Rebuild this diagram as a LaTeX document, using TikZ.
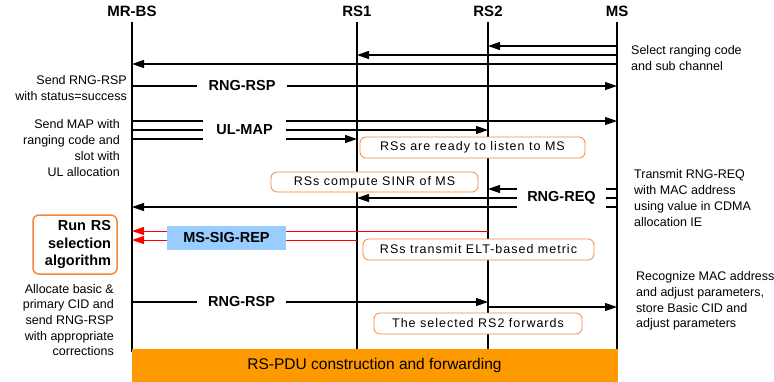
\documentclass[tikz,border=0pt]{standalone}
\usepackage{fontspec}
\setmainfont{Liberation Sans}
\newfontfamily\notefont{Liberation Sans}[LetterSpace=8]
\usepackage{tikz}
\usetikzlibrary{arrows.meta, positioning, calc}
\definecolor{noteorange}{HTML}{F5873A}
\definecolor{barorange}{HTML}{FF9900}
\definecolor{repblue}{HTML}{99CCFF}
\definecolor{sigred}{HTML}{FF0000}
\tikzset{
	head/.style={inner sep=0pt, font=\fontsize{15}{18}\selectfont\bfseries},
	lifeline/.style={line width=1.3pt},
	msg/.style={line width=1.2pt,-{Triangle[length=12pt, width=8pt]}},
	redmsg/.style={line width=1pt, draw=sigred, -{Triangle[length=12pt, width=8pt, fill=sigred]}},
	plain/.style={line width=1.2pt},
	msglabel/.style={fill=white, inner sep=0pt, font=\fontsize{14.5}{17}\selectfont\bfseries},
	note/.style={rectangle, rounded corners=6pt, draw=noteorange, line width=0.8pt, fill=white, inner sep=0pt, font=\notefont\fontsize{12.5}{14}\selectfont},
	annot/.style={inner sep=0pt, font=\fontsize{12.5}{15.7}\selectfont},
	bar/.style={rectangle, fill=barorange, inner sep=0pt, font=\fontsize{15.5}{18}\selectfont}
}
\begin{document}
\begin{tikzpicture}[x=1pt, y=-1pt]
	\useasboundingbox (0,0) rectangle (774,381);
	% Entidades
	\node [head] (bs) at (132,11) {MR-BS};
	\node [head] (rs1) at (357,11) {RS1};
	\node [head] (rs2) at (488,11) {RS2};
	\node [head] (ms) at (617,11) {MS};
	\coordinate (top) at (0,22);
	\coordinate (bot) at (0,352);
	\foreach \e in {bs,rs1,rs2,ms}
		\draw [lifeline] (\e |- top) -- (\e |- bot);
	
	% Filas de mensajes
	\coordinate (m1) at (0,46);
	\coordinate (m2) at (0,55);
	\coordinate (m3) at (0,64);
	\coordinate (m4) at (0,86);
	\coordinate (m5) at (0,121);
	\coordinate (m6) at (0,130);
	\coordinate (m7) at (0,139);
	\coordinate (m8) at (0,189);
	\coordinate (m9) at (0,198);
	\coordinate (m10) at (0,207);
	\coordinate (m11) at (0,231);
	\coordinate (m12) at (0,240);
	\coordinate (m13) at (0,302);
	\coordinate (m14) at (0,307);
	
	% Codigo de ranging
	\draw [msg] (ms |- m1) -- (rs2 |- m1);
	\draw [msg] (ms |- m2) -- (rs1 |- m2);
	\draw [msg] (ms |- m3) -- (bs |- m3);
	
	% RNG-RSP
	\draw [msg] (bs |- m4) -- (ms |- m4);
	\node [msglabel, minimum width=90pt, minimum height=14pt] (rsp1) at (242,86) {RNG-RSP};
	
	% UL-MAP
	\draw [msg] (bs |- m5) -- (ms |- m5);
	\draw [msg] (bs |- m6) -- (rs2 |- m6);
	\draw [msg] (bs |- m7) -- (rs1 |- m7);
	\node [msglabel, minimum width=83pt, minimum height=24pt] (ulmap) at (244.5,130) {UL-MAP};
	
	% RNG-REQ
	\draw [msg] (ms |- m8) -- (rs2 |- m8);
	\draw [msg] (ms |- m9) -- (rs1 |- m9);
	\draw [msg] (ms |- m10) -- (bs |- m10);
	\node [msglabel, minimum width=89pt, minimum height=24pt] (req) at (561.5,198) {RNG-REQ};
	
	% MS-SIG-REP
	\draw [redmsg] (rs2 |- m11) -- (bs |- m11);
	\draw [redmsg] (rs1 |- m12) -- (bs |- m12);
	\node [msglabel, fill=repblue, minimum width=119pt, minimum height=24pt] (sigrep) at (226.5,238) {MS-SIG-REP};
	
	% RNG-RSP final
	\draw [msg] (bs |- m13) -- (rs2 |- m13);
	\draw [msg] (rs2 |- m14) -- (ms |- m14);
	\node [msglabel, minimum width=89pt, minimum height=14pt] (rsp2) at (241.5,302) {RNG-RSP};
	
	% Notas
	\node [note, minimum width=225pt, minimum height=21pt] (ready) at (472.5,147.5) {RSs are ready to listen to MS};
	\node [note, minimum width=207pt, minimum height=20pt] (sinr) at (374.5,182) {RSs compute SINR of MS};
	\node [note, minimum width=231pt, minimum height=21pt] (elt) at (478.5,249.5) {RSs transmit ELT-based metric};
	\node [note, minimum width=208pt, minimum height=21pt] (fwd) at (478,323.5) {The selected RS2 forwards};
	\node [note, line width=1.5pt, minimum width=84pt, minimum height=59pt, text width=72pt, align=right, font=\fontsize{14.5}{17.5}\selectfont\bfseries] (algo) at (75,244.5) {Run RS\\selection\\algorithm};
	
	% Barra inferior
	\node [bar, minimum width=486pt, minimum height=33pt] (pdu) at (374.5,365) {RS-PDU construction and forwarding};
	
	% Textos laterales
	\node [annot, anchor=east, align=right] (t1) at (127,88) {Send RNG-RSP\\with status=success};
	\node [annot, anchor=east, align=right] (t2) at (120,148) {Send MAP with\\ranging code and\\slot with\\UL allocation};
	\node [annot, anchor=east, align=right] (t3) at (114,320) {Allocate basic \&\\primary CID and\\send RNG-RSP\\with appropriate\\corrections};
	\node [annot, anchor=west, align=left] (t4) at (631,58) {Select ranging code\\and sub channel};
	\node [annot, anchor=west, align=left] (t5) at (634,198) {Transmit RNG-REQ\\with MAC address\\using value in CDMA\\allocation IE};
	\node [annot, anchor=west, align=left] (t6) at (636,301) {Recognize MAC address\\and adjust parameters,\\store Basic CID and\\adjust parameters};
\end{tikzpicture}
\end{document}
